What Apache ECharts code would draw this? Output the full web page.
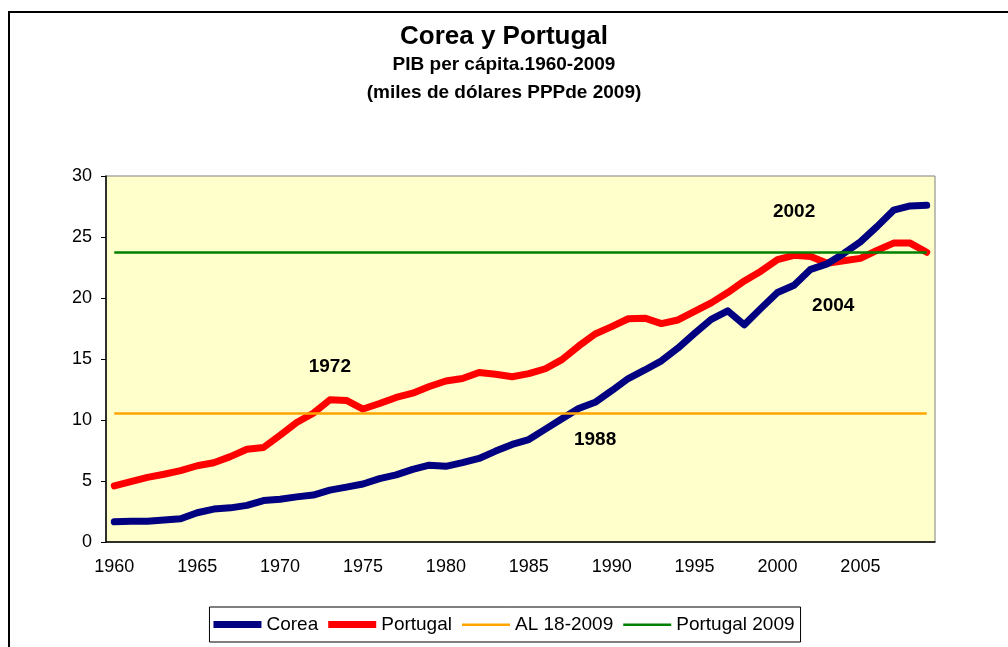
<!DOCTYPE html>
<html>
<head>
<meta charset="utf-8">
<script src="https://cdn.jsdelivr.net/npm/echarts@6/dist/echarts.min.js"></script>
<style>
html, body { margin: 0; padding: 0; background: #fff; }
#chart { width: 1008px; height: 647px; }
</style>
</head>
<body>
<div id="chart"></div>
<script>
// años
var years = ['1960','1961','1962','1963','1964','1965','1966','1967','1968','1969',
             '1970','1971','1972','1973','1974','1975','1976','1977','1978','1979',
             '1980','1981','1982','1983','1984','1985','1986','1987','1988','1989',
             '1990','1991','1992','1993','1994','1995','1996','1997','1998','1999',
             '2000','2001','2002','2003','2004','2005','2006','2007','2008','2009'];
// PIB per cápita, miles de dólares PPP de 2009
var corea = [1.65,1.7,1.7,1.8,1.9,2.4,2.7,2.8,3.0,3.4,
             3.5,3.7,3.85,4.25,4.5,4.75,5.2,5.5,5.95,6.3,
             6.2,6.5,6.85,7.45,8.0,8.4,9.25,10.1,10.95,11.45,
             12.4,13.4,14.1,14.85,15.9,17.1,18.25,18.95,17.8,19.15,
             20.45,21.05,22.35,22.8,23.65,24.6,25.85,27.2,27.55,27.6];
var portugal = [4.6,4.95,5.3,5.55,5.85,6.25,6.5,7.0,7.6,7.75,
                8.75,9.8,10.55,11.65,11.6,10.9,11.35,11.85,12.2,12.75,
                13.2,13.4,13.9,13.75,13.55,13.8,14.2,14.95,16.05,17.05,
                17.65,18.3,18.35,17.9,18.2,18.9,19.6,20.45,21.4,22.2,
                23.15,23.5,23.4,22.85,23.05,23.25,23.9,24.5,24.5,23.75];
// niveles de referencia
var al18 = [10.55];
var portugal2009 = [23.75];
// anotaciones: texto, categoría, valor
var notesText = ['1972', '1988', '2002', '2004'];
var notesYear = ['1973', '1989', '2001', '2003'];
var notesValue = [14.4, 8.35, 27.1, 19.4];
var yTicks = [0, 5, 10, 15, 20, 25, 30];

var FONT = 'Arial, "Liberation Sans", sans-serif';
// iconos de la leyenda: línea gruesa y línea fina
var ICON_THICK = 'path://M0,0 M0,3.5 L48,3.5 L48,10.5 L0,10.5 Z M48,14';
var ICON_THIN = 'path://M0,0 M0,6 L48,6 L48,8.5 L0,8.5 Z M48,14';

function hLine(level, color) {
    return {
        symbol: ['none', 'none'],
        silent: true,
        label: { show: false },
        lineStyle: { color: color, width: 2.5, type: 'solid' },
        data: [[{ coord: [years[0], level] }, { coord: [years[years.length - 1], level] }]]
    };
}

var notes = notesText.map(function (t, i) {
    return { name: t, coord: [notesYear[i], notesValue[i]], label: { offset: i === 3 ? [6, 0] : [0, 0] } };
});

var myChart = echarts.init(document.getElementById('chart'));
var option = {
    backgroundColor: '#ffffff',
    animation: false,
    title: {
        left: 'center',
        top: 19,
        itemGap: 1,
        text: 'Corea y Portugal',
        subtext: 'PIB per cápita.1960-2009\n(miles de dólares PPPde 2009)',
        textStyle: { color: '#000', fontFamily: FONT, fontWeight: 'bold', fontSize: 26 },
        subtextStyle: { color: '#000', fontFamily: FONT, fontWeight: 'bold', fontSize: 19, lineHeight: 28 }
    },
    graphic: [{
        type: 'polyline',
        silent: true,
        shape: { points: [[9, 700], [9, 12], [1010, 12]] },
        style: { stroke: '#000', lineWidth: 2, fill: null }
    }],
    legend: {
        left: 'center',
        top: 607,
        padding: [8, 6, 8, 4],
        itemGap: 10,
        itemWidth: 48,
        itemHeight: 14,
        borderColor: '#000',
        borderWidth: 1,
        textStyle: { color: '#000', fontFamily: FONT, fontSize: 19 },
        data: [
            { name: 'Corea', icon: ICON_THICK, itemStyle: { color: '#000080' } },
            { name: 'Portugal', icon: ICON_THICK, itemStyle: { color: '#FF0000' } },
            { name: 'AL 18-2009', icon: ICON_THIN, itemStyle: { color: '#FFA500' } },
            { name: 'Portugal 2009', icon: ICON_THIN, itemStyle: { color: '#008000' } }
        ]
    },
    grid: {
        left: 106,
        right: 73,
        top: 176,
        bottom: 105,
        show: true,
        backgroundColor: '#FFFFCC',
        borderColor: '#808080',
        borderWidth: 1
    },
    xAxis: {
        type: 'category',
        boundaryGap: true,
        data: years,
        axisLine: { lineStyle: { color: '#000', width: 1.5 } },
        axisTick: { interval: 0, length: 5, lineStyle: { color: '#000' } },
        axisLabel: { interval: 4, color: '#000', fontFamily: FONT, fontSize: 18, margin: 16 },
        splitLine: { show: false }
    },
    yAxis: {
        type: 'value',
        min: yTicks[0],
        max: yTicks[yTicks.length - 1],
        interval: 5,
        axisLine: { show: true, lineStyle: { color: '#000', width: 1.5 } },
        axisTick: { show: true, length: 5, lineStyle: { color: '#000' } },
        axisLabel: { color: '#000', fontFamily: FONT, fontSize: 18, margin: 14 },
        splitLine: { show: false }
    },
    series: [{
        name: 'Corea',
        type: 'line',
        data: corea,
        symbol: 'none',
        z: 4,
        lineStyle: { color: '#000080', width: 7, cap: 'round', join: 'round' },
        itemStyle: { color: '#000080' },
        markPoint: {
            symbol: 'circle',
            symbolSize: 1,
            silent: true,
            itemStyle: { color: 'rgba(0,0,0,0)' },
            label: { show: true, position: 'inside', formatter: '{b}', color: '#000', fontFamily: FONT, fontWeight: 'bold', fontSize: 19 },
            data: notes
        }
    }, {
        name: 'Portugal',
        type: 'line',
        data: portugal,
        symbol: 'none',
        z: 3,
        lineStyle: { color: '#FF0000', width: 7, cap: 'round', join: 'round' },
        itemStyle: { color: '#FF0000' }
    }, {
        name: 'AL 18-2009',
        type: 'line',
        data: [],
        symbol: 'none',
        z: 2,
        lineStyle: { color: '#FFA500', width: 2 },
        itemStyle: { color: '#FFA500' },
        markLine: hLine(al18[0], '#FFA500')
    }, {
        name: 'Portugal 2009',
        type: 'line',
        data: [],
        symbol: 'none',
        z: 2,
        lineStyle: { color: '#008000', width: 2 },
        itemStyle: { color: '#008000' },
        markLine: hLine(portugal2009[0], '#008000')
    }]
};
myChart.clear();
myChart.setOption(option);
</script>
</body>
</html>
